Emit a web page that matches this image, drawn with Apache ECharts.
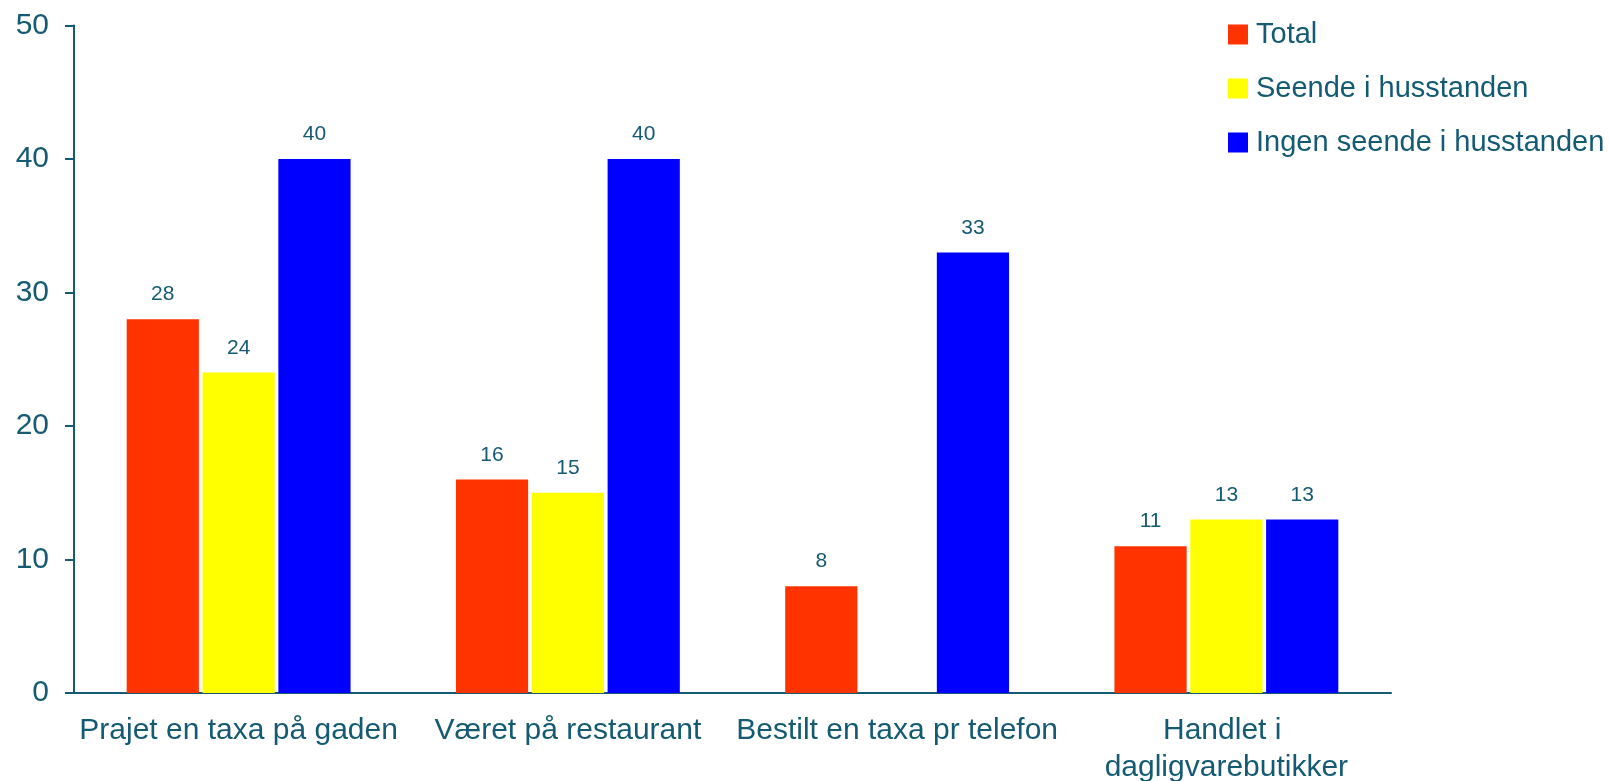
<!DOCTYPE html>
<html>
<head>
<meta charset="utf-8">
<script src="https://cdn.jsdelivr.net/npm/echarts@6/dist/echarts.min.js"></script>
<style>
  html, body { margin: 0; padding: 0; background: #fff; }
  #chart { width: 1609px; height: 781px; }
</style>
</head>
<body>
<div id="chart"></div>
<script>
const categories = [
  'Prajet en taxa på gaden',
  'Været på restaurant',
  'Bestilt en taxa pr telefon',
  'Handlet i dagligvarebutikker'
]
const seriesNames = ['Total', 'Seende i husstanden', 'Ingen seende i husstanden']
const totalValues = [28, 16, 8, 11]
const seendeValues = [24, 15, null, 13]
const ingenSeendeValues = [40, 40, 33, 13]
const yTicks = [0, 10, 20, 30, 40, 50]

const ink = '#145a72'
const font = '"Liberation Sans", Arial, sans-serif'

const mkSeries = (name, data, color) => ({
  name: name,
  type: 'bar',
  data: data,
  barGap: '5%',
  barCategoryGap: '32%',
  itemStyle: { color: color },
  label: {
    show: true,
    position: 'top',
    distance: 14,
    color: ink,
    fontSize: 21,
    fontFamily: font
  }
})

const myChart = echarts.init(document.getElementById('chart'))
const option = {
  animation: false,
  textStyle: { fontFamily: font },
  legend: {
    orient: 'vertical',
    left: 1223,
    top: 15,
    itemWidth: 20,
    itemHeight: 20,
    itemGap: 25,
    icon: 'rect',
    textStyle: { color: ink, fontSize: 29, fontFamily: font, padding: [0, 0, 0, 3] },
    data: seriesNames
  },
  grid: {
    left: 74,
    right: 218,
    top: 25.5,
    bottom: 88,
    containLabel: false,
    outerBoundsMode: 'none'
  },
  xAxis: {
    type: 'category',
    data: categories,
    axisLine: { lineStyle: { color: ink, width: 2 } },
    axisTick: { show: false },
    axisLabel: {
      color: ink,
      fontSize: 30,
      fontFamily: font,
      margin: 19,
      lineHeight: 37,
      width: 360,
      overflow: 'break',
      interval: 0
    }
  },
  yAxis: {
    type: 'value',
    min: yTicks[0],
    max: yTicks[yTicks.length - 1],
    interval: 10,
    splitLine: { show: false },
    axisLine: { show: true, lineStyle: { color: ink, width: 2 } },
    axisTick: { show: true, length: 9, lineStyle: { color: ink, width: 2 } },
    axisLabel: { color: ink, fontSize: 30, fontFamily: font, margin: 25 }
  },
  series: [
    mkSeries(seriesNames[0], totalValues, '#ff3300'),
    mkSeries(seriesNames[1], seendeValues, '#ffff00'),
    mkSeries(seriesNames[2], ingenSeendeValues, '#0000ff')
  ]
}
myChart.setOption(option)
</script>
</body>
</html>
